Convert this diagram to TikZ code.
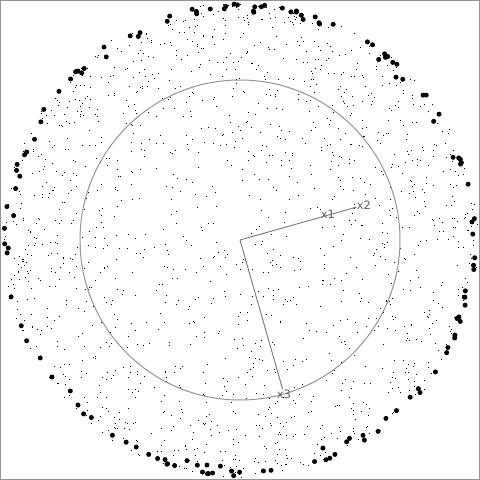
\documentclass[tikz,border=0pt]{standalone}
\usepackage{fontspec}
\setmainfont{DejaVu Sans}
\definecolor{lgray}{RGB}{120,120,120}
\definecolor{tgray}{RGB}{100,100,100}
\definecolor{fgray}{RGB}{150,150,150}
\tikzset{
  frame/.style={draw=fgray,line width=1pt},
  ring/.style={draw=fgray,line width=1pt},
  spoke/.style={draw=lgray,line width=0.9pt},
  ptlabel/.style={text=tgray,font=\fontsize{11.5}{12}\selectfont,inner sep=0pt},
  smalldot/.style={fill=black},
  bigdot/.style={fill=black}
}
\begin{document}
\begin{tikzpicture}[x=1pt,y=-1pt]
\useasboundingbox (0,0) rectangle (480,480);
\fill[white] (0,0) rectangle (480,480);
\draw[frame] (0.5,0.5) rectangle (479.5,479.5);
\pgfmathsetseed{4711}
% uniform background dots
\foreach \i in {1,...,950}{
  \pgfmathsetmacro\r{238*sqrt(rnd)}
  \pgfmathsetmacro\t{360*rnd}
  \pgfmathsetmacro\px{round(240+\r*cos(\t))}
  \pgfmathsetmacro\py{round(240+\r*sin(\t))}
  \fill[smalldot] (\px,\py) rectangle +(1,1);
}
% rim-weighted dots
\foreach \i in {1,...,600}{
  \pgfmathsetmacro\r{238*sqrt(sqrt(rnd))}
  \pgfmathsetmacro\t{360*rnd}
  \pgfmathsetmacro\px{round(240+\r*cos(\t))}
  \pgfmathsetmacro\py{round(240+\r*sin(\t))}
  \fill[smalldot] (\px,\py) rectangle +(1,1);
}
% big dots near the rim
\foreach \i in {1,...,135}{
  \pgfmathsetmacro\r{236-13*rnd*rnd}
  \pgfmathsetmacro\t{360*rnd}
  \fill[bigdot] ({240+\r*cos(\t)},{240+\r*sin(\t)}) circle (2.5);
}
\draw[ring] (240,240) circle (160);
\coordinate (c) at (240,240);
\node[ptlabel] (x1) at (328,214.5) {x1};
\node[ptlabel] (x2) at (364,205) {x2};
\node[ptlabel] (x3) at (284,394) {x3};
\draw[spoke] (c) -- (x2);
\draw[spoke] (c) -- (x3);
\end{tikzpicture}
\end{document}
